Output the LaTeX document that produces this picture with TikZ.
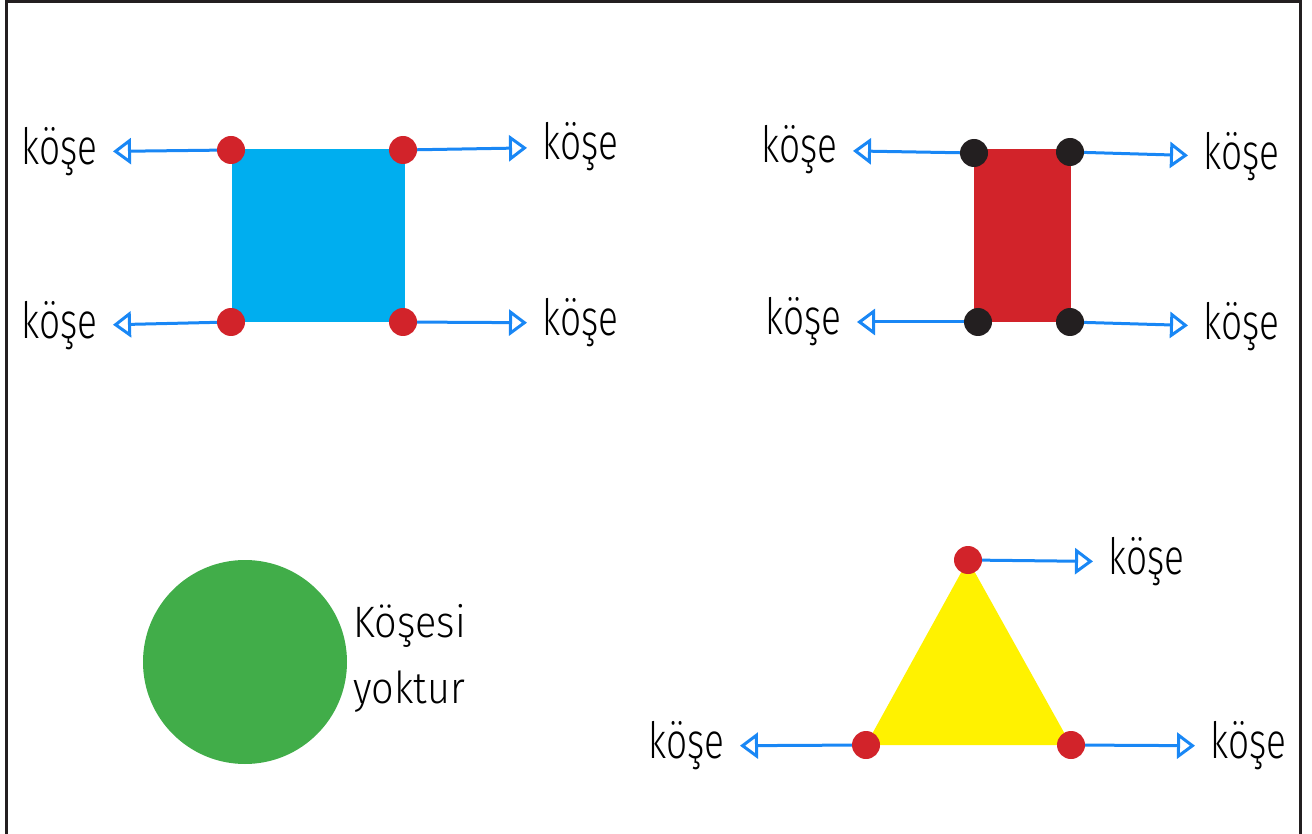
\documentclass[tikz,border=0pt]{standalone}
\usepackage{fontspec}
\newfontfamily\hand[FakeStretch=0.74]{Fira Sans Light}
\newfontfamily\handwide[FakeStretch=0.9]{Fira Sans Light}
\usetikzlibrary{arrows.meta, positioning}

\definecolor{skyblue}{RGB}{0,174,239}
\definecolor{brickred}{RGB}{210,35,42}
\definecolor{leafgreen}{RGB}{65,173,73}
\definecolor{lemon}{RGB}{255,242,0}
\definecolor{arrowblue}{RGB}{25,135,245}
\definecolor{framegray}{RGB}{35,31,32}

\begin{document}
\begin{tikzpicture}[
    x=1pt, y=-1pt,
    vertex/.style={circle, fill=brickred, minimum size=28pt, inner sep=0pt},
    darkvertex/.style={vertex, fill=framegray},
    word/.style={font=\hand\fontsize{50}{56}\selectfont, inner xsep=15pt, inner ysep=0pt},
    link/.style={-{Triangle[open, length=18pt, width=26pt]}, draw=arrowblue, line width=3pt},
]
    \useasboundingbox (0,0) rectangle (1312,834);
    \draw[framegray, line width=3pt] (6,900) -- (6,2) -- (1300,2) -- (1300,900);

    % square
    \fill[skyblue] (232,149) rectangle (405,322);
    \node[vertex] (A1) at (231,150) {};
    \node[vertex] (A2) at (403,150) {};
    \node[vertex] (A3) at (231,322) {};
    \node[vertex] (A4) at (403,322) {};

    \node[word, anchor=east] (kA1) at (113,152) {köşe};
    \node[word, anchor=west] (kA2) at (527,147) {köşe};
    \node[word, anchor=east] (kA3) at (113,326) {köşe};
    \node[word, anchor=west] (kA4) at (527,323) {köşe};

    % rectangle
    \fill[brickred] (974,149) rectangle (1071,322);
    \node[darkvertex] (B1) at (974,153) {};
    \node[darkvertex] (B2) at (1070,152) {};
    \node[darkvertex] (B3) at (978,322) {};
    \node[darkvertex] (B4) at (1070,322) {};

    \node[word, anchor=east] (kB1) at (853,150) {köşe};
    \node[word, anchor=west] (kB2) at (1188,157) {köşe};
    \node[word, anchor=east] (kB3) at (857,322) {köşe};
    \node[word, anchor=west] (kB4) at (1188,327) {köşe};

    % circle
    \node[circle, fill=leafgreen, minimum size=204pt, inner sep=0pt] (disc) at (245,662) {};
    \node[word, inner xsep=0pt, anchor=base west, font=\handwide\fontsize{44}{50}\selectfont] (none1) at (353,637) {Köşesi};
    \node[word, inner xsep=0pt, anchor=base west, font=\handwide\fontsize{44}{50}\selectfont] (none2) at (353,703) {yoktur};

    % triangle
    \coordinate (T1) at (968,560);
    \coordinate (T2) at (866,745);
    \coordinate (T3) at (1071,745);
    \fill[lemon] (T1) -- (T2) -- (T3) -- cycle;
    \node[vertex] (C1) at (T1) {};
    \node[vertex] (C2) at (T2) {};
    \node[vertex] (C3) at (T3) {};

    \node[word, anchor=west] (kC1) at (1093,562) {köşe};
    \node[word, anchor=east] (kC2) at (740,746) {köşe};
    \node[word, anchor=west] (kC3) at (1195,746) {köşe};

    \draw[link] (A1) -- (kA1);
    \draw[link] (A2) -- (kA2);
    \draw[link] (A3) -- (kA3);
    \draw[link] (A4) -- (kA4);
    \draw[link] (B1) -- (kB1);
    \draw[link] (B2) -- (kB2);
    \draw[link] (B3) -- (kB3);
    \draw[link] (B4) -- (kB4);
    \draw[link] (C1) -- (kC1);
    \draw[link] (C2) -- (kC2);
    \draw[link] (C3) -- (kC3);
\end{tikzpicture}
\end{document}
